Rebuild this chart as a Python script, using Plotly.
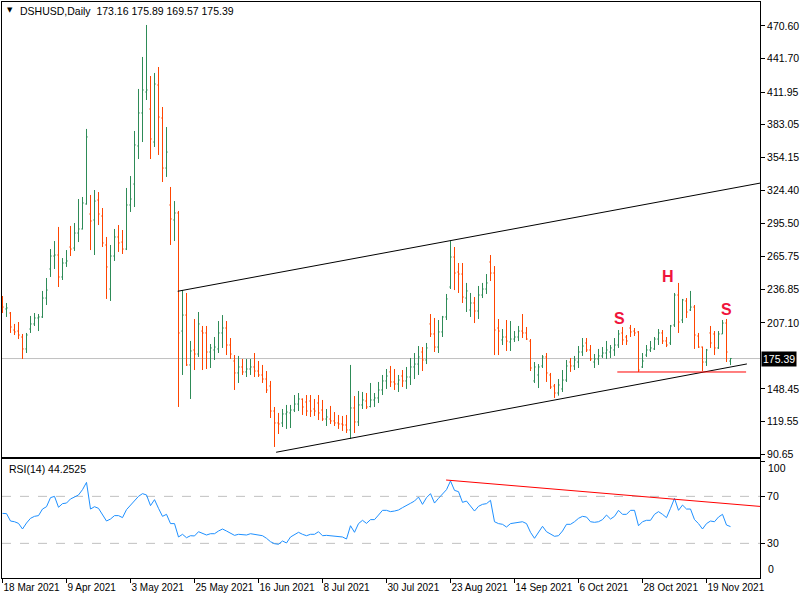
import pandas as pd
import plotly.graph_objects as go

symbol_text = "DSHUSD,Daily\u00a0\u00a0173.16 175.89 169.57 175.39"
rsi_text = "RSI(14) 44.2525"
last_price = 175.39

dates = pd.bdate_range("2021-03-18", periods=183)

opens = [
    225.6, 219.4, 215.8, 200.7, 199.8, 194.5, 183.9, 201.6, 206.1, 211.4,
    212.3, 229.1, 254.9, 266.4, 267.3, 247.8, 260.2, 274.4, 273.5, 286.8,
    290.4, 312.6, 303.7, 298.4, 316.1, 301.9, 276.2, 237.1, 266.4, 283.3,
    278.8, 272.6, 311.7, 330.3, 364.1, 393.4, 412.0, 396.9, 367.6, 418.2,
    388.9, 344.5, 311.7, 298.4, 304.6, 199.8, 214.0, 169.7, 183.0, 179.4,
    199.8, 198.1, 181.2, 183.0, 183.9, 198.1, 202.5, 187.4, 173.2, 162.6,
    167.9, 163.5, 166.1, 167.9, 164.3, 160.8, 157.2, 151.0, 128.8, 118.2,
    118.2, 126.2, 127.1, 129.7, 135.0, 139.3, 136.8, 137.7, 130.6, 135.9,
    129.7, 121.7, 121.7, 120.0, 118.2, 117.3, 116.4, 112.0, 131.5, 119.1,
    134.2, 137.7, 132.8, 138.6, 140.4, 147.5, 155.5, 163.5, 154.6, 152.8,
    159.9, 155.5, 159.0, 167.9, 170.5, 181.2, 174.1, 206.1, 197.2, 185.6,
    199.0, 212.3, 238.9, 265.5, 252.2, 250.4, 229.1, 218.5, 224.7, 217.6,
    231.8, 237.1, 261.1, 251.3, 202.5, 191.9, 194.5, 190.1, 192.7, 194.5,
    199.8, 198.1, 190.9, 155.5, 160.8, 168.8, 176.8, 160.8, 151.0, 144.8,
    148.4, 156.3, 172.3, 168.8, 172.3, 181.2, 189.2, 183.0, 172.3, 175.0,
    177.7, 180.3, 181.2, 183.0, 187.4, 198.1, 194.5, 202.5, 199.8, 199.0,
    167.9, 178.5, 183.0, 183.9, 192.7, 198.1, 191.0, 189.2, 205.2, 231.8,
    209.6, 226.5, 218.5, 221.1, 195.4, 185.6, 172.3, 198.1, 197.2, 184.8,
    197.2, 206.9, 173.16,
]
highs = [
    230.9, 224.7, 216.7, 206.1, 207.8, 197.2, 198.1, 213.2, 215.8, 214.9,
    235.4, 246.9, 272.6, 279.7, 292.2, 264.6, 271.7, 293.1, 295.7, 317.0,
    318.8, 379.2, 320.6, 325.0, 323.2, 309.0, 283.3, 276.2, 290.4, 293.9,
    289.5, 326.8, 337.4, 377.4, 414.7, 443.1, 471.5, 426.2, 428.9, 434.2,
    398.7, 380.9, 327.7, 315.2, 306.4, 236.2, 233.6, 191.0, 210.5, 216.7,
    204.3, 204.3, 188.3, 194.5, 208.7, 214.0, 208.7, 193.6, 178.5, 177.7,
    175.0, 175.0, 175.0, 180.3, 173.2, 169.7, 164.3, 155.5, 132.4, 127.1,
    130.6, 134.2, 134.2, 143.0, 144.8, 140.0, 143.0, 143.0, 139.5, 143.0,
    138.6, 130.6, 133.3, 127.9, 125.3, 124.4, 125.3, 169.7, 142.1, 146.6,
    145.7, 144.8, 153.7, 144.8, 154.6, 160.8, 166.1, 168.8, 166.1, 160.8,
    165.2, 167.9, 175.9, 180.3, 186.5, 185.6, 189.2, 214.9, 211.4, 209.6,
    213.2, 232.7, 279.7, 274.4, 260.2, 260.2, 242.5, 233.6, 230.0, 239.8,
    242.5, 250.4, 267.3, 257.5, 210.5, 201.6, 209.6, 208.7, 199.8, 204.3,
    214.9, 203.4, 192.7, 172.3, 170.5, 178.5, 180.3, 162.6, 152.8, 157.2,
    165.2, 174.1, 175.9, 177.7, 186.5, 193.6, 193.6, 187.4, 179.4, 183.9,
    185.6, 191.0, 187.4, 193.6, 200.7, 203.4, 196.3, 205.2, 202.5, 199.8,
    180.3, 187.4, 191.0, 194.5, 201.6, 200.7, 194.5, 205.2, 233.6, 242.5,
    228.3, 229.1, 235.4, 222.9, 198.1, 186.0, 183.9, 204.3, 199.8, 199.8,
    209.6, 210.5, 175.89,
]
lows = [
    215.8, 212.3, 198.1, 196.3, 192.7, 175.0, 180.3, 198.1, 204.3, 199.8,
    211.4, 222.9, 247.8, 254.9, 238.9, 245.1, 256.7, 266.4, 270.9, 278.8,
    290.0, 312.0, 271.7, 267.3, 293.9, 274.4, 228.3, 226.5, 262.0, 270.0,
    268.2, 271.7, 305.5, 309.9, 352.5, 367.6, 404.9, 352.5, 363.2, 356.1,
    332.1, 336.6, 276.2, 279.7, 132.4, 160.8, 168.8, 139.5, 165.2, 176.8,
    165.2, 166.1, 167.0, 174.1, 180.3, 184.8, 178.5, 175.0, 147.5, 153.7,
    160.8, 159.0, 160.8, 159.0, 159.0, 153.7, 144.8, 122.6, 96.9, 108.4,
    114.6, 112.9, 113.7, 127.9, 128.8, 125.3, 124.4, 123.5, 124.4, 120.8,
    120.0, 115.5, 117.3, 115.5, 112.9, 111.1, 109.3, 104.0, 109.3, 115.5,
    130.6, 130.6, 132.0, 132.4, 135.9, 143.0, 148.4, 150.1, 147.5, 145.7,
    150.1, 148.4, 151.9, 157.2, 160.8, 164.3, 170.5, 194.5, 181.2, 180.3,
    194.5, 209.6, 237.1, 236.2, 233.6, 224.7, 216.7, 212.3, 206.9, 210.5,
    229.1, 232.7, 244.2, 178.5, 178.5, 187.4, 182.1, 182.1, 190.1, 190.9,
    193.6, 191.9, 164.3, 153.7, 149.2, 167.0, 154.6, 148.4, 140.4, 142.4,
    145.7, 154.6, 163.5, 165.2, 167.0, 177.7, 181.2, 173.2, 167.0, 169.7,
    175.9, 175.0, 175.9, 177.7, 184.8, 187.4, 187.4, 194.5, 195.4, 163.5,
    167.0, 176.8, 181.2, 183.0, 187.4, 188.3, 185.6, 187.4, 203.4, 198.1,
    206.9, 211.4, 217.6, 183.9, 184.8, 164.3, 168.8, 184.8, 178.5, 183.9,
    197.2, 172.3, 169.57,
]
closes = [
    221.1, 220.3, 203.4, 199.0, 196.3, 183.9, 196.3, 206.1, 211.4, 212.3,
    229.1, 236.2, 266.4, 267.3, 247.8, 260.2, 262.0, 272.6, 286.8, 290.4,
    313.5, 372.1, 297.5, 315.2, 303.7, 278.0, 256.7, 266.4, 283.3, 278.0,
    272.6, 311.7, 317.0, 365.0, 393.4, 413.8, 413.8, 370.3, 419.1, 389.8,
    344.5, 358.7, 299.3, 304.6, 198.1, 214.0, 169.7, 182.1, 179.4, 206.1,
    198.1, 181.2, 184.8, 185.6, 198.1, 202.5, 187.4, 179.4, 162.6, 167.9,
    163.5, 166.1, 167.9, 164.3, 160.8, 157.2, 147.5, 128.8, 118.2, 117.3,
    126.2, 127.9, 129.7, 135.0, 139.5, 132.4, 128.8, 128.8, 128.8, 127.1,
    121.7, 123.5, 120.0, 118.2, 117.3, 116.4, 112.0, 131.5, 119.1, 134.2,
    138.6, 132.4, 138.6, 140.4, 147.5, 155.5, 159.9, 154.6, 152.8, 156.3,
    155.5, 159.0, 167.9, 170.5, 176.8, 174.1, 184.8, 197.2, 185.6, 199.0,
    212.3, 228.3, 265.5, 251.3, 250.4, 230.0, 235.4, 224.7, 217.6, 231.8,
    237.1, 242.5, 251.3, 200.7, 199.8, 194.5, 190.9, 192.7, 194.5, 199.8,
    198.1, 192.7, 167.0, 167.9, 167.9, 176.8, 162.6, 150.1, 144.8, 151.9,
    156.3, 168.8, 168.8, 174.1, 181.2, 186.5, 183.0, 175.0, 175.0, 177.7,
    180.3, 183.0, 184.8, 187.4, 197.2, 191.9, 191.0, 199.0, 198.1, 165.2,
    173.2, 183.0, 184.8, 192.7, 198.1, 191.0, 187.4, 204.3, 231.8, 207.8,
    227.4, 216.7, 221.1, 196.3, 185.6, 172.3, 183.0, 189.2, 184.8, 197.2,
    206.9, 181.2, 175.39,
]
rsi = [
    55.5, 55.3, 49.0, 48.4, 47.0, 42.2, 47.3, 51.3, 53.0, 53.6,
    59.2, 61.2, 68.9, 70.0, 60.7, 63.8, 64.3, 67.8, 69.4, 71.2,
    75.7, 81.9, 59.2, 61.2, 59.8, 54.1, 49.0, 50.7, 53.6, 53.6,
    51.9, 58.7, 62.6, 66.6, 70.0, 72.3, 71.2, 62.1, 67.2, 59.8,
    53.0, 54.7, 46.8, 46.8, 35.4, 37.7, 34.8, 36.5, 36.3, 39.9,
    38.8, 37.1, 38.2, 38.2, 40.5, 42.2, 40.5, 38.8, 36.8, 37.7,
    37.1, 37.1, 38.2, 37.7, 37.1, 36.5, 34.3, 31.4, 29.7, 29.2,
    32.0, 30.3, 35.4, 37.7, 39.4, 37.7, 36.5, 37.7, 37.7, 39.9,
    36.5, 36.8, 36.5, 35.7, 36.0, 35.4, 33.7, 45.0, 39.4, 46.8,
    49.6, 47.0, 50.2, 50.2, 54.1, 58.1, 58.1, 57.0, 57.5,
    58.4, 60.4, 62.6, 64.1, 66.0, 69.4, 63.2, 68.9, 72.3, 64.3,
    68.3, 71.7, 75.7, 83.1, 75.1, 74.0, 64.9, 66.0, 62.1, 57.5,
    61.5, 63.2, 63.8, 66.6, 48.4, 46.8, 46.2, 43.9, 46.8, 47.3,
    48.4, 48.4, 46.8, 39.4, 34.3, 39.9, 44.5, 39.9, 37.7, 36.0,
    36.5, 40.5, 46.2, 46.2, 48.4, 51.3, 53.0, 52.4, 48.4, 47.9,
    48.4, 50.2, 54.1, 50.7, 53.0, 58.1, 54.7, 54.7, 58.1, 58.1,
    45.0, 48.4, 49.6, 49.6, 54.7, 57.0, 54.7, 51.9, 59.8, 68.3,
    58.1, 62.6, 59.2, 59.2, 50.2, 46.8, 42.2, 46.8, 49.0, 48.4,
    52.4, 54.7, 45.6, 44.25,
]

date_tick_labels = ["18 Mar 2021", "9 Apr 2021", "3 May 2021", "25 May 2021",
                    "16 Jun 2021", "8 Jul 2021", "30 Jul 2021", "23 Aug 2021",
                    "14 Sep 2021", "6 Oct 2021", "28 Oct 2021", "19 Nov 2021"]
price_tick_labels = ["470.60", "441.70", "411.95", "383.05", "354.15", "324.40",
                     "295.50", "265.75", "236.85", "207.10", "148.45", "119.55", "90.65"]
rsi_levels = [70, 30]

# hand-drawn objects: (bar index, value) pairs
upper_channel = [(43.8, 235.1), (189.5, 331.2)]
lower_channel = [(68.4, 92.2), (186.1, 170.6)]
neckline = [(153.7, 163.45), (185.9, 163.45)]
rsi_trend = [(110.9, 83.9), (189.5, 61.4)]
pattern_labels = [("S", 154.25, 210.5), ("H", 166.3, 248.0), ("S", 180.9, 219.1)]

FONT = "Liberation Sans, Arial, sans-serif"
FS = 10.5
GREEN = "#2e8b57"
RED = "#ff4500"

x = list(range(len(closes)))
date_labels_all = [f"{d.day} {d:%b %Y}" for d in dates]
tick_idx = [date_labels_all.index(lbl) for lbl in date_tick_labels]
XR = [-0.125, 189.375]

fig = go.Figure()
fig.add_trace(go.Ohlc(
    x=x, open=opens, high=highs, low=lows, close=closes,
    xaxis="x", yaxis="y",
    increasing=dict(line=dict(color=GREEN, width=1)),
    decreasing=dict(line=dict(color=RED, width=1)),
    tickwidth=0.3, showlegend=False, hoverinfo="skip",
))
fig.add_trace(go.Scatter(
    x=x, y=rsi, xaxis="x2", yaxis="y2", mode="lines",
    line=dict(color="#1e90ff", width=1), showlegend=False, hoverinfo="skip",
))

axis_common = dict(showline=True, mirror=True, linecolor="black", linewidth=1,
                   showgrid=False, zeroline=False, automargin=False)

fig.update_layout(
    width=800, height=600,
    margin=dict(l=2, r=40, t=2, b=22),
    paper_bgcolor="white", plot_bgcolor="white",
    font=dict(family=FONT, size=FS, color="black"),
    showlegend=False,
    xaxis=dict(domain=[0, 1], anchor="y", range=XR, showticklabels=False, ticks="",
               rangeslider=dict(visible=False), **axis_common),
    yaxis=dict(domain=[0.2101, 1], anchor="x", side="right", range=[88.0, 491.9],
               tickvals=[float(v) for v in price_tick_labels], ticktext=price_tick_labels,
               ticks="outside", ticklen=4, tickcolor="black", **axis_common),
    xaxis2=dict(domain=[0, 1], anchor="y2", range=XR, tickvals=tick_idx,
                ticktext=date_tick_labels, ticks="outside", ticklen=4, tickcolor="black",
                tickangle=0, ticklabelposition="outside right",
                tickfont=dict(family=FONT, size=10), **axis_common),
    yaxis2=dict(domain=[0, 0.2066], anchor="x2", side="right", range=[0.5, 101.8],
                tickvals=[100] + rsi_levels + [0], ticktext=["", "70", "30", ""],
                ticks="outside", ticklen=4, tickcolor="black", **axis_common),
)

shapes = []
shapes.append(dict(type="line", xref="x", yref="y", x0=XR[0], x1=XR[1],
                   y0=last_price, y1=last_price, line=dict(color="#c0c0c0", width=1), layer="below"))
for lv in rsi_levels:
    shapes.append(dict(type="line", xref="x2", yref="y2", x0=XR[0], x1=XR[1], y0=lv, y1=lv,
                       line=dict(color="#c0c0c0", width=1, dash="dash"), layer="below"))
for (a, b), col in [(upper_channel, "black"), (lower_channel, "black"), (neckline, "#ff0000")]:
    shapes.append(dict(type="line", xref="x", yref="y", x0=a[0], y0=a[1], x1=b[0], y1=b[1],
                       line=dict(color=col, width=1)))
shapes.append(dict(type="line", xref="x2", yref="y2", x0=rsi_trend[0][0], y0=rsi_trend[0][1],
                   x1=rsi_trend[1][0], y1=rsi_trend[1][1], line=dict(color="#ff0000", width=1)))
fig.update_layout(shapes=shapes)

ann = []
for txt, bx, by in pattern_labels:
    ann.append(dict(x=bx, y=by, xref="x", yref="y", text=f"<b>{txt}</b>", showarrow=False,
                    font=dict(family=FONT, size=16, color="#f0143c"), xanchor="center", yanchor="middle"))
ann.append(dict(x=(18 - 2) / 758, y=(578 - 11) / 576, xref="paper", yref="paper", text=symbol_text,
                showarrow=False, xanchor="left", yanchor="middle", font=dict(family=FONT, size=FS)))
ann.append(dict(x=(10 - 2) / 758, y=(578 - 10) / 576, xref="paper", yref="paper", text="\u25bc",
                showarrow=False, xanchor="center", yanchor="middle", font=dict(family="DejaVu Sans", size=7)))
ann.append(dict(x=(7 - 2) / 758, y=(578 - 469) / 576, xref="paper", yref="paper", text=rsi_text,
                showarrow=False, xanchor="left", yanchor="middle", font=dict(family=FONT, size=FS)))
ann.append(dict(x=1, y=last_price, xref="paper", yref="y", text=f"{last_price:.2f}", showarrow=False,
                xanchor="left", yanchor="middle", xshift=1, bgcolor="black", borderpad=1,
                font=dict(family=FONT, size=FS, color="white")))
ann.append(dict(x=1, y=101.8, xref="paper", yref="y2", text="100", showarrow=False,
                xanchor="left", yanchor="top", xshift=6, yshift=-1, font=dict(family=FONT, size=FS)))
ann.append(dict(x=1, y=0.5, xref="paper", yref="y2", text="0", showarrow=False,
                xanchor="left", yanchor="bottom", xshift=6, yshift=1, font=dict(family=FONT, size=FS)))
fig.update_layout(annotations=ann)

fig.write_html("out.html")
